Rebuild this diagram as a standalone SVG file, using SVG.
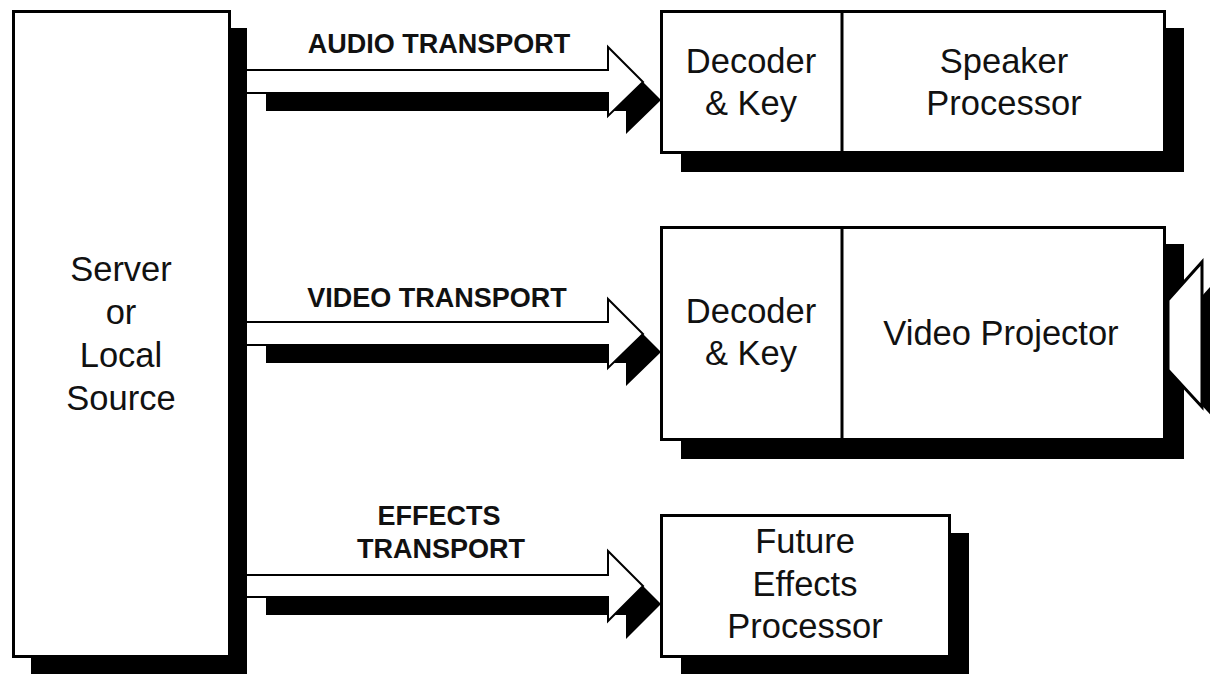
<svg xmlns="http://www.w3.org/2000/svg" width="1210" height="674" viewBox="0 0 1210 674">
<style>
.bg{fill:#fff}
.box{fill:#fff;stroke:#000;stroke-width:3}
.sh{fill:#000}
.div{stroke:#000;stroke-width:3}
.arr{fill:#fff;stroke:#000;stroke-width:2;stroke-linejoin:miter}
.t{font-family:"Liberation Sans",Arial,sans-serif;font-size:34.5px;fill:#111;text-anchor:middle}
.lbl{font-family:"Liberation Sans",Arial,sans-serif;font-size:27px;font-weight:bold;fill:#111;text-anchor:middle}
</style>
<rect class="bg" x="0" y="0" width="1210" height="674"/>
<g id="connectors">
  <g id="audio-transport">
    <path class="sh" d="M266,88 H626 V65 L661,100 L626,134 V111 H266 Z"/>
    <path class="arr" d="M247,70 H608 V47 L643,82 L608,116 V93 H247"/>
    <text class="lbl" x="439" y="53">AUDIO TRANSPORT</text>
  </g>
  <g id="video-transport">
    <path class="sh" d="M266,340 H626 V317 L661,352 L626,386 V363 H266 Z"/>
    <path class="arr" d="M247,322 H608 V299 L643,334 L608,368 V345 H247"/>
    <text class="lbl" x="437" y="307">VIDEO TRANSPORT</text>
  </g>
  <g id="effects-transport">
    <path class="sh" d="M266,593 H626 V569 L661,604 L626,639 V615 H266 Z"/>
    <path class="arr" d="M247,575 H608 V551 L643,586 L608,621 V597 H247"/>
    <text class="lbl" x="439" y="525">EFFECTS</text>
    <text class="lbl" x="441" y="558">TRANSPORT</text>
  </g>
</g>
<g id="server">
  <rect class="sh" x="31" y="28" width="216" height="646"/>
  <rect class="box" x="13.5" y="11.5" width="216" height="645"/>
  <text class="t" x="121" y="281">Server</text>
  <text class="t" x="121" y="324">or</text>
  <text class="t" x="121" y="367">Local</text>
  <text class="t" x="121" y="410">Source</text>
</g>
<g id="audio-node">
  <rect class="sh" x="681" y="28" width="503" height="144"/>
  <rect class="box" x="661.5" y="11.5" width="503" height="141"/>
  <line class="div" x1="842" y1="11.5" x2="842" y2="152.5"/>
  <text class="t" x="751" y="73">Decoder</text>
  <text class="t" x="751" y="115">&amp; Key</text>
  <text class="t" x="1004" y="73">Speaker</text>
  <text class="t" x="1004" y="115">Processor</text>
</g>
<g id="video-node">
  <rect class="sh" x="681" y="244" width="503" height="215"/>
  <rect class="box" x="661.5" y="227.5" width="503" height="212"/>
  <line class="div" x1="842" y1="227.5" x2="842" y2="439.5"/>
  <polygon class="sh" points="1184,316 1218,278 1218,423 1184,386"/>
  <polygon class="box" points="1168,300 1202,262 1202,407 1168,370"/>
  <text class="t" x="751" y="323">Decoder</text>
  <text class="t" x="751" y="365">&amp; Key</text>
  <text class="t" x="1001" y="345">Video Projector</text>
</g>
<g id="effects-node">
  <rect class="sh" x="681" y="533" width="288" height="143"/>
  <rect class="box" x="661.5" y="515.5" width="288" height="141"/>
  <text class="t" x="805" y="553">Future</text>
  <text class="t" x="805" y="596">Effects</text>
  <text class="t" x="805" y="638">Processor</text>
</g>
</svg>
